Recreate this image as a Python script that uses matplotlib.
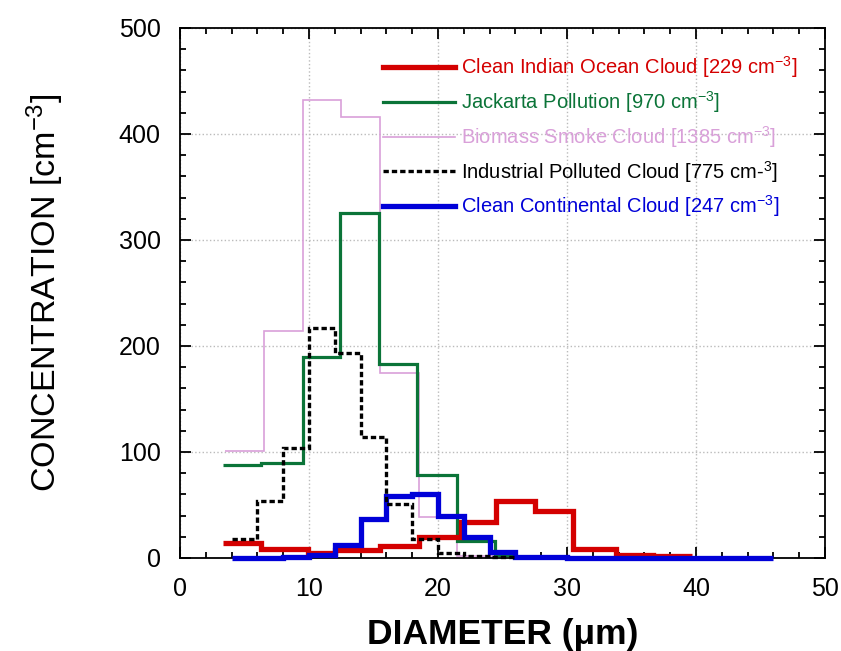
import numpy as np
import matplotlib.pyplot as plt
from matplotlib.ticker import MultipleLocator

plt.rcParams['font.family'] = ['Liberation Sans', 'DejaVu Sans']
plt.rcParams['mathtext.default'] = 'regular'

# bin edges (um) and concentrations (cm-3)
ocean_edges = [3.3, 6.3, 9.9, 12.0, 15.5, 18.5, 21.8, 24.5, 27.5, 30.5, 33.8, 36.7, 39.7]
ocean_vals = [14, 8, 5, 7.5, 11, 20, 34, 54, 44, 8.5, 3, 1.5]

jakarta_edges = [3.3, 6.3, 9.5, 12.4, 15.4, 18.4, 21.5, 24.4, 26.0]
jakarta_vals = [88, 90, 190, 325, 183, 78, 16, 3]

biomass_edges = [3.5, 6.5, 9.5, 12.5, 15.5, 18.5, 21.5, 24.5]
biomass_vals = [101, 214, 432, 416, 174, 39, 2]

industrial_edges = [4, 6, 8, 10, 12, 14, 16, 18, 20, 22, 24, 26]
industrial_vals = [17.5, 54, 104, 217, 193, 114, 51, 18, 5, 1.5, 0.5]

continental_edges = [4, 6, 8, 10, 12, 14, 16, 18, 20, 22, 24, 26, 28, 30, 32, 34, 36, 38, 40, 42, 44, 46]
continental_vals = [0, 0, 1, 3, 12, 37, 58, 60, 40, 20, 6, 1, 1, 0, 0, 0, 0, 0, 0, 0, 0]

fig = plt.figure(figsize=(8.41, 6.51), dpi=100)
ax = fig.add_axes([0.214, 0.143, 0.767, 0.814])

ax.stairs(biomass_vals, biomass_edges, baseline=None, color='#d9a0d9', lw=1.2,
          label='Biomass Smoke Cloud [1385 cm$^{-3}$]', zorder=2, clip_on=False)
ax.stairs(jakarta_vals, jakarta_edges, baseline=None, color='#0b7438', lw=2.3,
          label='Jackarta Pollution [970 cm$^{-3}$]', zorder=3, clip_on=False)
ax.stairs(ocean_vals, ocean_edges, baseline=None, color='#d40000', lw=3.8,
          label='Clean Indian Ocean Cloud [229 cm$^{-3}$]', zorder=4, clip_on=False)
ax.stairs(continental_vals, continental_edges, baseline=None, color='#0000d8', lw=3.8,
          label='Clean Continental Cloud [247 cm$^{-3}$]', zorder=5, clip_on=False)
ax.stairs(industrial_vals, industrial_edges, baseline=None, color='black', lw=2.4,
          linestyle=(0, (1.6, 0.9)), label='Industrial Polluted Cloud [775 cm-$^{3}$]',
          zorder=6, clip_on=False)

ax.set_xlim(0, 50)
ax.set_ylim(0, 500)
ax.xaxis.set_major_locator(MultipleLocator(10))
ax.xaxis.set_minor_locator(MultipleLocator(2))
ax.yaxis.set_major_locator(MultipleLocator(100))
ax.yaxis.set_minor_locator(MultipleLocator(20))
ax.tick_params(which='both', direction='in', top=True, right=True, width=1.3)
ax.tick_params(which='major', length=8, labelsize=18, pad=14)
ax.tick_params(which='minor', length=4)
for s in ax.spines.values():
    s.set_linewidth(1.3)
ax.grid(True, which='major', linestyle=':', color='#bbbbbb', lw=1)

ax.set_xlabel('DIAMETER (\u03bcm)', fontsize=25.5, fontweight='bold', labelpad=12)
ax.set_ylabel('CONCENTRATION [cm$^{-3}$]', fontsize=24.5, labelpad=38)

handles, labels = ax.get_legend_handles_labels()
order = [2, 1, 0, 4, 3]
leg = ax.legend([handles[i] for i in order], [labels[i] for i in order],
                loc='upper left', bbox_to_anchor=(0.314, 0.95), frameon=False,
                fontsize=14.5, labelcolor='linecolor', handlelength=3.6,
                handletextpad=0.3, labelspacing=0.44, borderpad=0, borderaxespad=0)

plt.savefig('out.png', dpi=100)
